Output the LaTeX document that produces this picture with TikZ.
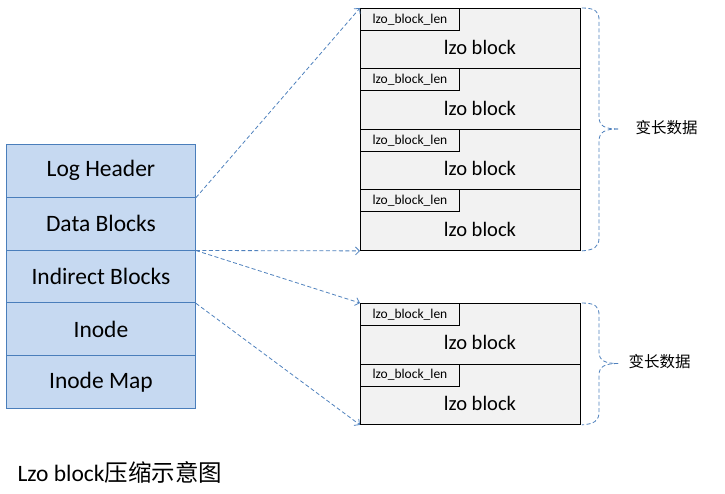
\documentclass[tikz,border=0pt]{standalone}
\usepackage{fontspec}
\setmainfont{Carlito}
\newfontfamily\cjk{Noto Sans CJK SC}
\usetikzlibrary{arrows.meta,calc}
\definecolor{lfill}{RGB}{198,217,241}
\definecolor{lborder}{RGB}{74,126,187}
\definecolor{rfill}{RGB}{242,242,242}
\definecolor{dash}{RGB}{79,129,189}
\begin{document}
\begin{tikzpicture}[x=1pt,y=-1pt,
  lcell/.style={draw=lborder, fill=lfill, line width=0.9pt, minimum width=189pt, minimum height=52.8pt, inner sep=0pt, anchor=north west, font=\fontsize{23.5}{26}\selectfont},
  rcell/.style={draw=black, fill=rfill, line width=0.9pt, minimum width=220pt, minimum height=60.5pt, inner sep=0pt, anchor=north west},
  lenbox/.style={draw=black, fill=rfill, line width=0.9pt, minimum width=99pt, minimum height=22pt, inner sep=0pt, anchor=north west, font=\fontsize{13.5}{15}\selectfont},
  blocktxt/.style={font=\fontsize{20.5}{23}\selectfont},
  link/.style={draw=dash, line width=0.8pt, dash pattern=on 4pt off 2.5pt, -{Straight Barb[length=4pt,width=8pt]}},
  bracel/.style={draw=dash, line width=0.8pt, dash pattern=on 4pt off 2.5pt},
  note/.style={font=\cjk\fontsize{15.5}{18}\selectfont, anchor=west}
]
\useasboundingbox (0,0) rectangle (725,494);
% left stack
\node[lcell] (lh) at (6,144) {Log Header};
\node[lcell] (db) at (6,196.8) {Data Blocks};
\node[lcell] (ib) at (6,249.6) {Indirect Blocks};
\node[lcell] (in) at (6,302.4) {Inode};
\node[lcell] (im) at (6,355.2) {Inode Map};
% top right container
\foreach \i/\y in {1/8,2/68.5,3/129,4/189.5}{
  \node[rcell] (t\i) at (360,\y) {};
  \node[lenbox] (tl\i) at (360,\y) {lzo\_block\_len};
  \node[blocktxt] (tb\i) at (480,\y+39.5) {lzo block};
}
% bottom right container
\foreach \i/\y in {1/303,2/363.5}{
  \node[rcell] (b\i) at (360,\y) {};
  \node[lenbox] (bl\i) at (360,\y) {lzo\_block\_len};
  \node[blocktxt] (bb\i) at (480,\y+39.5) {lzo block};
}
% connectors
\draw[link] (lh.south east) -- (t1.north west);
\draw[link] (db.south east) -- (t4.south west);
\draw[link] (db.south east) -- (b1.north west);
\draw[link] (ib.south east) -- (b2.south west);
% braces
\coordinate (tt) at ($(t1.north east)+(1,0)$);
\coordinate (tbt) at ($(t4.south east)+(1,0)$);
\coordinate (tm) at (618,129);
\draw[bracel] (tt) .. controls ++(14,0) and ++(0,-8) .. (599,20) -- (599,117)
  .. controls (599,126) and (605,129) .. (tm);
\draw[bracel] (tm) .. controls (605,129) and (599,132) .. (599,141) -- (599,238)
  .. controls (599,247) and (594,250) .. (tbt);
\coordinate (bt) at ($(b1.north east)+(1,0)$);
\coordinate (bbt) at ($(b2.south east)+(1,0)$);
\coordinate (bm) at (618,363.5);
\draw[bracel] (bt) .. controls ++(14,0) and ++(0,-8) .. (599,315) -- (599,352)
  .. controls (599,360.5) and (605,363.5) .. (bm);
\draw[bracel] (bm) .. controls (605,363.5) and (599,366.5) .. (599,375) -- (599,412)
  .. controls (599,421) and (594,424) .. (bbt);
\node[note] (n1) at (632,128) {变长数据};
\node[note] (n2) at (625,362) {变长数据};
% caption
\node[anchor=west, font=\fontsize{23.5}{26}\selectfont] (cap) at (14,472) {Lzo block{\cjk 压缩示意图}};
\end{tikzpicture}
\end{document}
